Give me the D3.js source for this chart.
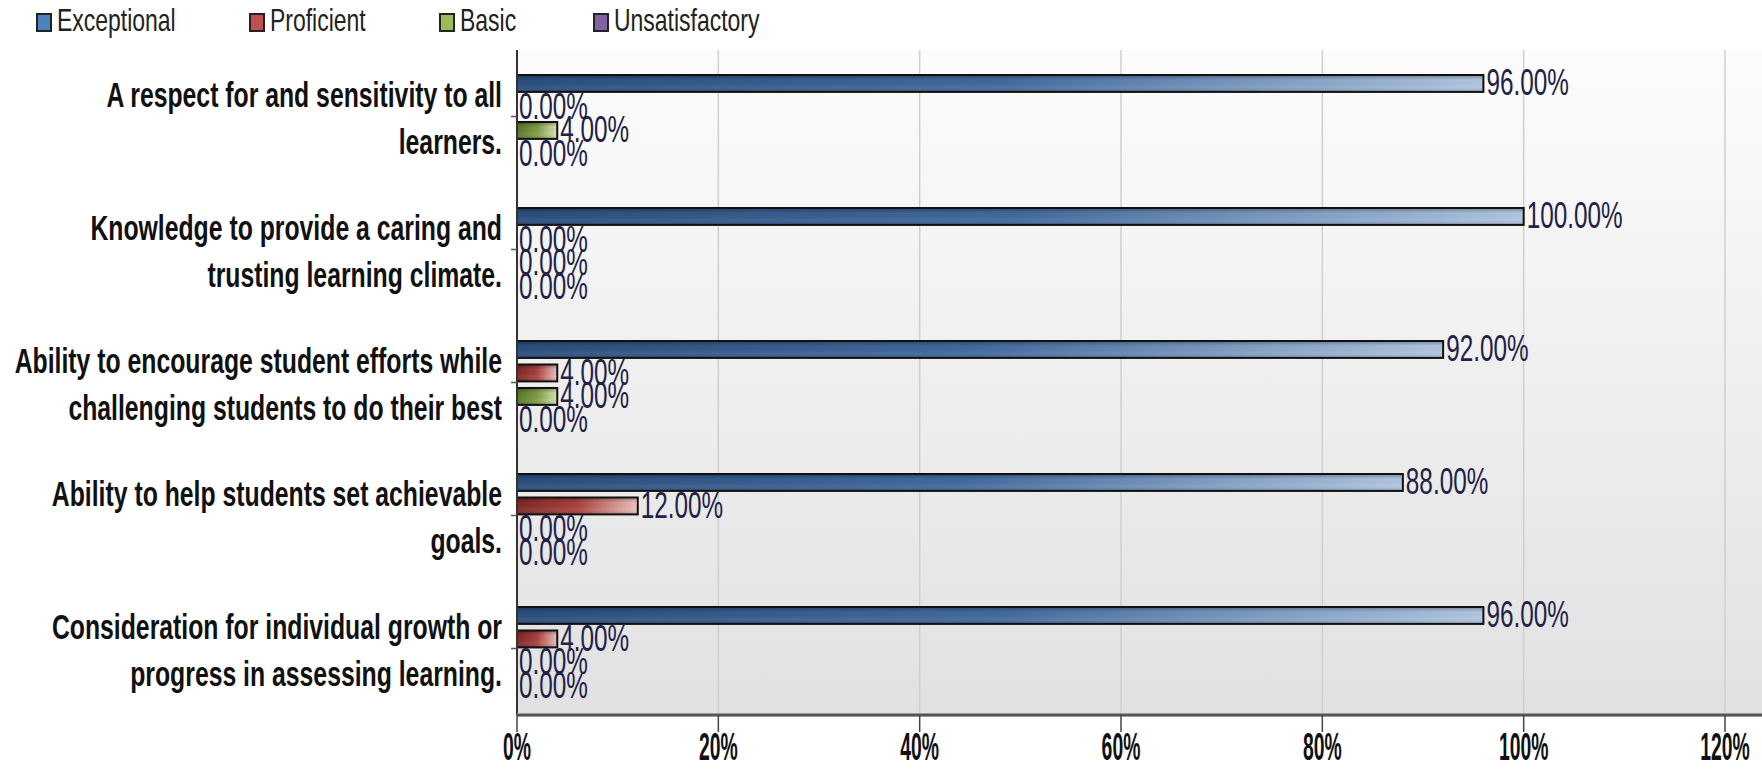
<!DOCTYPE html>
<html>
<head>
<meta charset="utf-8">
<script src="https://cdn.jsdelivr.net/npm/d3@7"></script>
<style>
  body { margin: 0; background: #fff; }
  svg { display: block; font-family: "Liberation Sans", Arial, sans-serif; }
</style>
</head>
<body>
<div id="chart"></div>
<script>
// chart data
const categories = [
  "A respect for and sensitivity to all\nlearners.",
  "Knowledge to provide a caring and\ntrusting learning climate.",
  "Ability to encourage student efforts while\nchallenging students to do their best",
  "Ability to help students set achievable\ngoals.",
  "Consideration for individual growth or\nprogress in assessing learning."
];
const series = ["Exceptional", "Proficient", "Basic", "Unsatisfactory"];
const exceptional = [96, 100, 92, 88, 96];
const proficient = [0, 0, 4, 12, 4];
const basic = [4, 0, 4, 0, 0];
const unsatisfactory = [0, 0, 0, 0, 0];
const xTicks = [0, 20, 40, 60, 80, 100, 120];

const values = [exceptional, proficient, basic, unsatisfactory];
const colors = {
  Exceptional:    {legend: "#4f81bd", dark: "#2a4d7c", mid: "#41699c", light: "#b0c5df"},
  Proficient:     {legend: "#c0504d", dark: "#7e2624", mid: "#a8413e", light: "#ecc0bf"},
  Basic:          {legend: "#9bbb59", dark: "#587529", mid: "#7f9c45", light: "#d5e4b4"},
  Unsatisfactory: {legend: "#8064a2", dark: "#4a3566", mid: "#6c5290", light: "#cdc0de"}
};

const W = 1762, H = 774;
const margin = {top: 50, right: 0, bottom: 59, left: 517};
const narrow = 0.81;

const svg = d3.select("#chart").append("svg").attr("width", W).attr("height", H);
const defs = svg.append("defs");

const bg = defs.append("linearGradient").attr("id", "bg").attr("x1", 0).attr("y1", 0).attr("x2", 0).attr("y2", 1);
bg.append("stop").attr("offset", "0%").attr("stop-color", "#fcfcfc");
bg.append("stop").attr("offset", "100%").attr("stop-color", "#e1e1e1");

series.forEach((s, i) => {
  const c = colors[s];
  const g = defs.append("linearGradient").attr("id", "grad" + i).attr("x1", 0).attr("y1", 0).attr("x2", 1).attr("y2", 0);
  g.append("stop").attr("offset", "0%").attr("stop-color", c.dark);
  g.append("stop").attr("offset", "50%").attr("stop-color", c.mid);
  g.append("stop").attr("offset", "100%").attr("stop-color", c.light);
});
const shade = defs.append("linearGradient").attr("id", "shade").attr("x1", 0).attr("y1", 0).attr("x2", 0).attr("y2", 1);
shade.append("stop").attr("offset", "0%").attr("stop-color", "#000").attr("stop-opacity", 0.3);
shade.append("stop").attr("offset", "30%").attr("stop-color", "#000").attr("stop-opacity", 0);
shade.append("stop").attr("offset", "70%").attr("stop-color", "#fff").attr("stop-opacity", 0.06);
shade.append("stop").attr("offset", "100%").attr("stop-color", "#000").attr("stop-opacity", 0.2);

const x = d3.scaleLinear().domain([0, 120]).range([margin.left, 1725]);
const y = d3.scaleBand().domain(categories).range([margin.top, H - margin.bottom]);
const ys = d3.scaleBand().domain(series)
  .range([y.bandwidth() * 0.188, y.bandwidth() * 0.845]).paddingInner(0.28);

// plot background
svg.append("rect").attr("x", margin.left).attr("y", margin.top)
  .attr("width", W - margin.left).attr("height", H - margin.bottom - margin.top)
  .attr("fill", "url(#bg)");

// grid
svg.append("g").selectAll("line").data(xTicks.filter(t => t > 0)).join("line")
  .attr("x1", d => x(d)).attr("x2", d => x(d))
  .attr("y1", margin.top).attr("y2", H - margin.bottom)
  .attr("stroke", "#cfcfcf").attr("stroke-width", 1.5);

// bars
const groups = svg.append("g").selectAll("g").data(categories).join("g")
  .attr("transform", d => `translate(0,${y(d)})`);

groups.each(function(cat, ci) {
  const g = d3.select(this);
  series.forEach((s, si) => {
    const v = values[si][ci];
    const by = ys(s);
    if (v > 0) {
      g.append("rect").attr("x", x(0)).attr("y", by)
        .attr("width", x(v) - x(0)).attr("height", ys.bandwidth())
        .attr("fill", `url(#grad${si})`);
      g.append("rect").attr("x", x(0)).attr("y", by)
        .attr("width", x(v) - x(0)).attr("height", ys.bandwidth())
        .attr("fill", "url(#shade)").attr("stroke", "#111").attr("stroke-width", 2);
    }
  });
  series.forEach((s, si) => {
    const v = values[si][ci];
    g.append("text")
      .attr("transform", `translate(${x(v) + (v > 0 ? 3 : 2)},${ys(s) + ys.bandwidth() / 2 + 12}) scale(${narrow},1.22)`)
      .attr("font-size", 30).attr("fill", "#222248")
      .text(v.toFixed(2) + "%");
  });
});

// axes lines
svg.append("line").attr("x1", x(0)).attr("x2", x(0))
  .attr("y1", margin.top).attr("y2", H - margin.bottom)
  .attr("stroke", "#333").attr("stroke-width", 2);
svg.append("rect").attr("x", x(0)).attr("y", H - margin.bottom - 2)
  .attr("width", W - x(0)).attr("height", 4).attr("fill", "#9a9a9a");
svg.append("line").attr("x1", x(0)).attr("x2", W)
  .attr("y1", H - margin.bottom).attr("y2", H - margin.bottom)
  .attr("stroke", "#555").attr("stroke-width", 2);

// x ticks and labels
const xt = svg.append("g").selectAll("g").data(xTicks).join("g");
xt.append("line").attr("x1", d => x(d)).attr("x2", d => x(d))
  .attr("y1", H - margin.bottom).attr("y2", H - margin.bottom + 17)
  .attr("stroke", "#444").attr("stroke-width", 1.5);
xt.append("text")
  .attr("transform", d => `translate(${x(d)},${H - 14}) scale(0.57,1.15)`)
  .attr("text-anchor", "middle").attr("font-weight", "bold").attr("font-size", 34)
  .attr("fill", "#111").text(d => d + "%");

// y ticks and category labels
const yt = svg.append("g").selectAll("g").data(categories).join("g")
  .attr("transform", d => `translate(0,${y(d) + y.bandwidth() / 2})`);
yt.append("line").attr("x1", x(0) - 6).attr("x2", x(0)).attr("stroke", "#555").attr("stroke-width", 1.5);
yt.each(function(cat) {
  const lines = cat.split("\n");
  const g = d3.select(this);
  lines.forEach((ln, i) => {
    g.append("text")
      .attr("transform", `translate(${x(0) - 15},${2 + (i - (lines.length - 1) / 2) * 47 + 12}) scale(0.826,1.14)`)
      .attr("text-anchor", "end").attr("font-weight", "bold").attr("font-size", 30)
      .attr("fill", "#111").text(ln);
  });
});

// legend
const legendX = [36, 249, 439, 593];
const lg = svg.append("g").selectAll("g").data(series).join("g")
  .attr("transform", (d, i) => `translate(${legendX[i]},13)`);
lg.append("rect").attr("x", 1).attr("y", 1).attr("width", 14).attr("height", 17)
  .attr("fill", d => colors[d].legend).attr("stroke", "#222").attr("stroke-width", 2);
lg.append("text").attr("transform", `translate(21,18) scale(0.82,1.15)`)
  .attr("font-size", 28).attr("fill", "#222").text(d => d);
</script>
</body>
</html>
